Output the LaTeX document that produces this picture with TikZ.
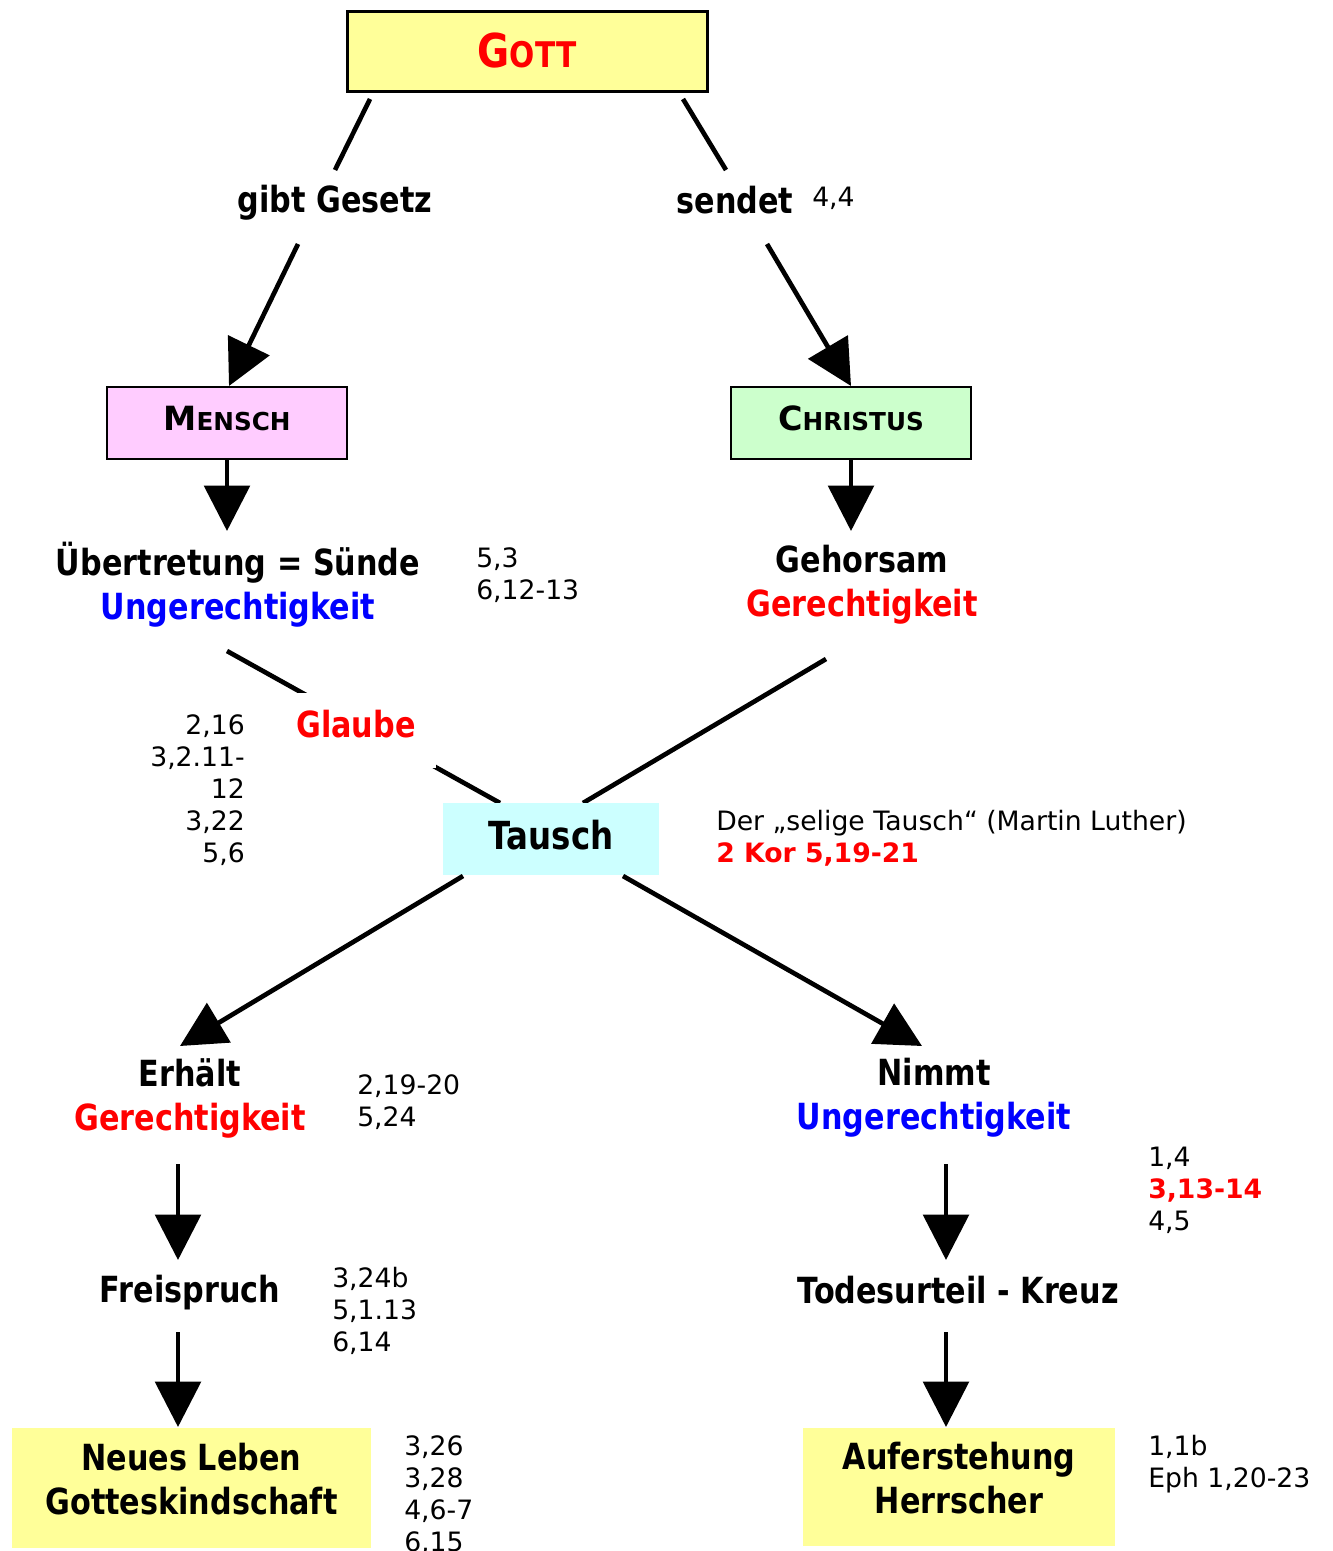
\documentclass[tikz,border=0pt]{standalone}
\usepackage{fontspec}
\setmainfont{DejaVu Sans}
\newfontfamily\hb[FakeStretch=0.84]{DejaVu Sans Bold}
\newfontfamily\nb{DejaVu Sans Bold}
\usetikzlibrary{arrows.meta}
\definecolor{gyellow}{HTML}{FFFF99}
\definecolor{mpink}{HTML}{FFCCFF}
\definecolor{cgreen}{HTML}{CCFFCC}
\definecolor{tcyan}{HTML}{CCFFFF}
\definecolor{vred}{HTML}{FF0000}
\definecolor{vblue}{HTML}{0000FF}
\begin{document}
\begin{tikzpicture}[x=0.75pt,y=-0.75pt,
  big/.style={font=\hb\fontsize{27}{33}\selectfont, align=center, inner sep=0pt},
  ref/.style={font=\fontsize{20}{24}\selectfont, align=left, inner sep=0pt, anchor=north west},
  headbox/.style={draw, line width=2pt, minimum width=180pt, minimum height=54pt, inner sep=0pt},
  conn/.style={line width=3.5pt},
  arr/.style={line width=3.5pt, -{Triangle[length=34pt,width=34pt]}},
  ]
\useasboundingbox (0,0) rectangle (1333,1551);

% top box
\node[headbox, line width=2.25pt, fill=gyellow, minimum width=270pt, minimum height=60pt, text depth=2pt] (gott) at (527,52)
  {\hb\color{vred}\fontsize{35}{35}\selectfont G\fontsize{26.5}{26.5}\selectfont OTT};

\node[big] (gibt) at (335,203) {gibt Gesetz};
\node[big] (sendet) at (735,200) {sendet};
\node[ref] (r44) at (812,187) {4,4};

\coordinate (a1) at (370,99);  \coordinate (a2) at (335,170);
\coordinate (a3) at (298,244); \coordinate (a4) at (229,386);
\coordinate (b1) at (683,99);  \coordinate (b2) at (726,170);
\coordinate (b3) at (767,244); \coordinate (b4) at (851,386);
\draw[conn] (a1) -- (a2);
\draw[arr] (a3) -- (a4);
\draw[conn] (b1) -- (b2);
\draw[arr] (b3) -- (b4);

\node[headbox, fill=mpink, text depth=7pt] (mensch) at (227,423)
  {\nb\fontsize{25}{25}\selectfont M\fontsize{18.5}{18.5}\selectfont ENSCH};
\node[headbox, fill=cgreen, text depth=7pt] (christus) at (851,423)
  {\nb\fontsize{25}{25}\selectfont C\fontsize{18.5}{18.5}\selectfont HRISTUS};

\coordinate (m1) at (227,459); \coordinate (m2) at (227,531);
\coordinate (c1) at (851,459); \coordinate (c2) at (851,531);
\draw[arr] (m1) -- (m2);
\draw[arr] (c1) -- (c2);

\node[big] (uebert) at (238,585) {Übertretung = Sünde\\\color{vblue}Ungerechtigkeit};
\node[ref] (r53) at (476,547) {5,3\\6,12-13};
\node[big] (gehorsam) at (862,585) {Gehorsam\\\color{vred}Gerechtigkeit};

% crossing lines
\coordinate (x1) at (227,651); \coordinate (x2) at (500,803);
\coordinate (y1) at (826,659); \coordinate (y2) at (583,803);
\draw[conn] (x1) -- (x2);
\draw[conn] (y1) -- (y2);
\node[big, fill=white, minimum width=120pt, minimum height=56pt, text depth=10pt, text=vred] (glaube) at (356,730.5) {Glaube};
\node[ref, anchor=north east, align=right] (r216) at (245,714) {2,16\\3,2.11-\\12\\3,22\\5,6};

\node[big, fill=tcyan, minimum width=162pt, minimum height=54pt, text depth=6pt, font=\hb\fontsize{29}{33}\selectfont] (tausch) at (551,839) {Tausch};
\node[ref] (luther) at (716,810) {Der „selige Tausch“ (Martin Luther)\\{\nb\color{vred}2 Kor 5,19-21}};

\coordinate (t1) at (463,876); \coordinate (t2) at (180,1046);
\coordinate (t3) at (623,876); \coordinate (t4) at (922,1046);
\draw[arr] (t1) -- (t2);
\draw[arr] (t3) -- (t4);

\node[big] (erhaelt) at (190,1098) {Erhält\\\color{vred}Gerechtigkeit};
\node[ref] (r219) at (357,1074) {2,19-20\\5,24};
\node[big] (nimmt) at (934,1098) {Nimmt\\\color{vblue}Ungerechtigkeit};
\node[ref] (r14) at (1148,1147) {1,4\\{\nb\color{vred}3,13-14}\\4,5};

\coordinate (e1) at (178,1164); \coordinate (e2) at (178,1260);
\coordinate (n1) at (946,1164); \coordinate (n2) at (946,1260);
\draw[arr] (e1) -- (e2);
\draw[arr] (n1) -- (n2);

\node[big] (frei) at (190,1293) {Freispruch};
\node[ref] (r324) at (332,1267) {3,24b\\5,1.13\\6,14};
\node[big] (todes) at (958,1290) {Todesurteil - Kreuz};

\coordinate (f1) at (178,1332); \coordinate (f2) at (178,1427);
\coordinate (k1) at (946,1332); \coordinate (k2) at (946,1427);
\draw[arr] (f1) -- (f2);
\draw[arr] (k1) -- (k2);

\node[big, fill=gyellow, minimum width=269.25pt, minimum height=90pt, text depth=14pt] (neues) at (191.5,1488)
  {Neues Leben\\Gotteskindschaft};
\node[ref] (r326) at (404,1435) {3,26\\3,28\\4,6-7\\6,15};
\node[big, fill=gyellow, minimum width=234pt, minimum height=88.5pt, text depth=14pt] (aufer) at (959,1487)
  {Auferstehung\\Herrscher};
\node[ref] (r11b) at (1148,1435) {1,1b\\Eph 1,20-23};
\end{tikzpicture}
\end{document}
